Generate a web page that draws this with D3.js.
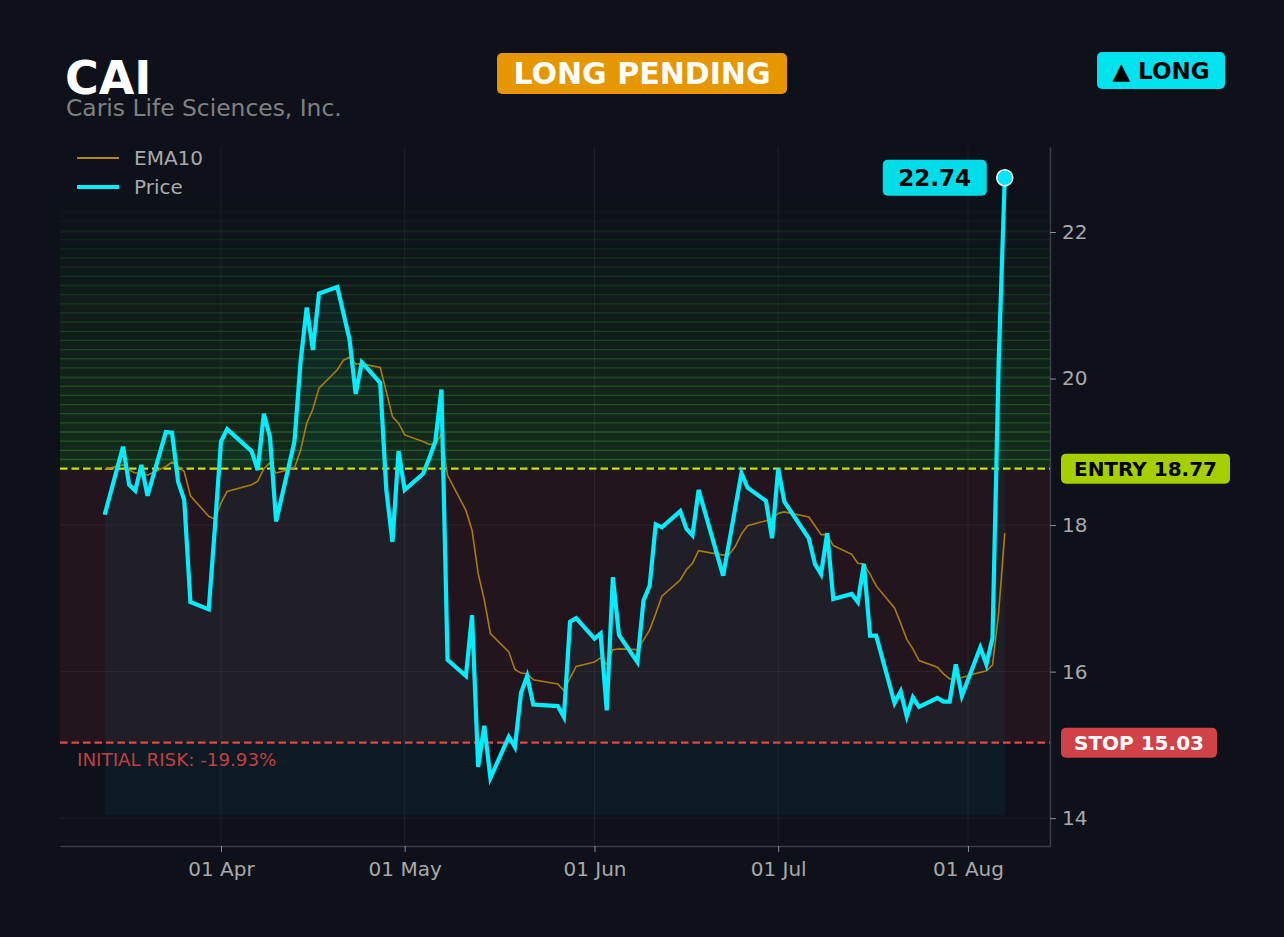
<!DOCTYPE html>
<html>
<head>
<meta charset="utf-8">
<title>CAI - Caris Life Sciences</title>
<script src="https://cdn.jsdelivr.net/npm/d3@7"></script>
<style>
  body { margin: 0; background: #0e111a; }
  svg { display: block; font-family: "DejaVu Sans", sans-serif; }
</style>
</head>
<body>
<script>

// Trading days shown on the chart
var dates = [
  "2026-03-13","2026-03-16","2026-03-17","2026-03-18","2026-03-19","2026-03-20",
  "2026-03-23","2026-03-24","2026-03-25","2026-03-26","2026-03-27","2026-03-30",
  "2026-03-31","2026-04-01","2026-04-02","2026-04-06","2026-04-07","2026-04-08",
  "2026-04-09","2026-04-10","2026-04-13","2026-04-14","2026-04-15","2026-04-16",
  "2026-04-17","2026-04-20","2026-04-21","2026-04-22","2026-04-23","2026-04-24",
  "2026-04-27","2026-04-28","2026-04-29","2026-04-30","2026-05-01","2026-05-04",
  "2026-05-05","2026-05-06","2026-05-07","2026-05-08","2026-05-11","2026-05-12",
  "2026-05-13","2026-05-14","2026-05-15","2026-05-18","2026-05-19","2026-05-20",
  "2026-05-21","2026-05-22","2026-05-26","2026-05-27","2026-05-28","2026-05-29",
  "2026-06-01","2026-06-02","2026-06-03","2026-06-04","2026-06-05","2026-06-08",
  "2026-06-09","2026-06-10","2026-06-11","2026-06-12","2026-06-15","2026-06-16",
  "2026-06-17","2026-06-18","2026-06-22","2026-06-23","2026-06-24","2026-06-25",
  "2026-06-26","2026-06-29","2026-06-30","2026-07-01","2026-07-02","2026-07-06",
  "2026-07-07","2026-07-08","2026-07-09","2026-07-10","2026-07-13","2026-07-14",
  "2026-07-15","2026-07-16","2026-07-17","2026-07-20","2026-07-21","2026-07-22",
  "2026-07-23","2026-07-24","2026-07-27","2026-07-28","2026-07-29","2026-07-30",
  "2026-07-31","2026-08-03","2026-08-04","2026-08-05","2026-08-06","2026-08-07"
];

// Closing price
var price = [
  18.14, 19.07, 18.55, 18.47, 18.82, 18.40,
  19.27, 19.26, 18.59, 18.34, 16.95, 16.85,
  17.96, 19.14, 19.31, 19.01, 18.75, 19.52,
  19.20, 18.05, 19.14, 20.23, 20.97, 20.39,
  21.16, 21.25, 20.89, 20.53, 19.79, 20.22,
  19.94, 18.48, 17.77, 19.01, 18.48, 18.70,
  18.91, 19.14, 19.85, 16.16, 15.94, 16.77,
  14.70, 15.26, 14.55, 15.11, 14.97, 15.71,
  15.94, 15.55, 15.53, 15.38, 16.68, 16.73,
  16.45, 16.52, 15.47, 17.29, 16.50, 16.13,
  16.97, 17.17, 18.01, 17.97, 18.19, 17.95,
  17.86, 18.48, 17.31, 17.77, 18.24, 18.71,
  18.51, 18.33, 17.82, 18.77, 18.32, 17.82,
  17.47, 17.33, 17.89, 16.99, 17.06, 16.95,
  17.47, 16.49, 16.49, 15.57, 15.73, 15.39,
  15.65, 15.52, 15.64, 15.59, 15.59, 16.10,
  15.67, 16.33, 16.10, 16.46, 20.20, 22.74
];

// EMA10 line
var ema10 = [
  18.76, 18.82, 18.75, 18.71, 18.71, 18.68,
  18.80, 18.86, 18.80, 18.73, 18.40, 18.12,
  18.08, 18.30, 18.46, 18.55, 18.60, 18.77,
  18.85, 18.71, 18.78, 19.02, 19.39, 19.58,
  19.87, 20.12, 20.25, 20.29, 20.20, 20.20,
  20.15, 19.82, 19.48, 19.39, 19.23, 19.14,
  19.10, 19.11, 19.24, 18.68, 18.20, 17.93,
  17.34, 16.98, 16.52, 16.27, 16.03, 15.98,
  15.97, 15.89, 15.83, 15.74, 15.91, 16.07,
  16.13, 16.19, 16.10, 16.30, 16.31, 16.30,
  16.43, 16.57, 16.79, 17.03, 17.25, 17.39,
  17.48, 17.65, 17.59, 17.60, 17.71, 17.88,
  17.99, 18.06, 18.08, 18.16, 18.18, 18.11,
  17.99, 17.87, 17.87, 17.72, 17.60, 17.48,
  17.47, 17.33, 17.17, 16.87, 16.66, 16.44,
  16.31, 16.15, 16.06, 15.97, 15.90, 15.90,
  15.92, 15.99, 16.01, 16.09, 16.80, 17.89
];

// Trade levels
var entryPrice = 18.77;
var stopPrice = 15.03;
var targetPrice = 22.52;
var areaBase = 14.04;

// Axis ticks
var yTicks = [14, 16, 18, 20, 22];
var yDomain = [13.62, 23.16];
var xDomain = ["2026-03-05T17:00:00Z", "2026-08-14T09:20:00Z"];

drawChart();


function drawChart(){

  // Width and height
  var w = 1284;
  var h = 937;

  var svg = d3.select("body")
              .append("svg")
              .attr("width", w)
              .attr("height", h);

  svg.append("rect")
     .attr("width", w)
     .attr("height", h)
     .attr("fill", "#0e111a");

  // Plot box
  var margin = {top: 147, right: 234, bottom: 91, left: 60};
  var left = margin.left;
  var right = w - margin.right;
  var top = margin.top;
  var bottom = h - margin.bottom;

  var parse = d3.utcParse("%Y-%m-%d");
  var data = dates.map((d, i) => ({date: parse(d), price: price[i], ema: ema10[i]}));

  var xScale = d3.scaleUtc()
                 .domain(xDomain.map(d => new Date(d)))
                 .range([left, right]);

  var yScale = d3.scaleLinear()
                 .domain(yDomain)
                 .range([bottom, top]);

  // Profit zone: stacked bands fading upward
  var nBands = 30;
  var bandStep = (targetPrice - entryPrice) / nBands;
  var bands = d3.range(nBands);
  var zone = svg.append("g");
  zone.selectAll("rect")
      .data(bands)
      .enter()
      .append("rect")
      .attr("x", left)
      .attr("width", right - left)
      .attr("y", i => yScale(entryPrice + (i + 1) * bandStep))
      .attr("height", i => yScale(entryPrice + i * bandStep) - yScale(entryPrice + (i + 1) * bandStep))
      .attr("fill", "#36b827")
      .attr("fill-opacity", i => 0.16 * Math.pow(1 - i / nBands, 1.1));
  zone.selectAll("line")
      .data(bands)
      .enter()
      .append("line")
      .attr("x1", left)
      .attr("x2", right)
      .attr("y1", i => yScale(entryPrice + (i + 1) * bandStep))
      .attr("y2", i => yScale(entryPrice + (i + 1) * bandStep))
      .attr("stroke", "#36b827")
      .attr("stroke-width", 1.3)
      .attr("stroke-opacity", i => 0.38 * Math.pow(1 - (i + 1) / nBands, 0.7));

  // Risk zone between entry and stop
  svg.append("rect")
     .attr("x", left)
     .attr("width", right - left)
     .attr("y", yScale(entryPrice))
     .attr("height", yScale(stopPrice) - yScale(entryPrice))
     .attr("fill", "#ef4444")
     .attr("fill-opacity", 0.09);

  // Grid
  var monthTicks = xScale.ticks(d3.utcMonth.every(1));
  var grid = svg.append("g")
                .attr("stroke", "#ffffff")
                .attr("stroke-opacity", 0.06)
                .attr("stroke-width", 1);
  grid.selectAll(".gx")
      .data(monthTicks)
      .enter()
      .append("line")
      .attr("x1", d => xScale(d))
      .attr("x2", d => xScale(d))
      .attr("y1", top)
      .attr("y2", bottom);
  grid.selectAll(".gy")
      .data(yTicks)
      .enter()
      .append("line")
      .attr("x1", left)
      .attr("x2", right)
      .attr("y1", d => yScale(d))
      .attr("y2", d => yScale(d));

  // Area under price
  var area = d3.area()
               .x(d => xScale(d.date))
               .y0(yScale(areaBase))
               .y1(d => yScale(d.price));
  svg.append("path")
     .datum(data)
     .attr("d", area)
     .attr("fill", "#00e5ff")
     .attr("fill-opacity", 0.045);

  // Entry and stop lines
  svg.append("line")
     .attr("x1", left).attr("x2", right)
     .attr("y1", yScale(entryPrice)).attr("y2", yScale(entryPrice))
     .attr("stroke", "#c8e00a")
     .attr("stroke-width", 2.2)
     .attr("stroke-dasharray", "7.5,4");

  svg.append("line")
     .attr("x1", left).attr("x2", right)
     .attr("y1", yScale(stopPrice)).attr("y2", yScale(stopPrice))
     .attr("stroke", "#e04848")
     .attr("stroke-width", 2.2)
     .attr("stroke-dasharray", "7.5,4");

  svg.append("text")
     .attr("x", 77)
     .attr("y", yScale(stopPrice) + 23)
     .attr("fill", "#c0403f")
     .attr("font-size", 18.3)
     .text("INITIAL RISK: " + ((stopPrice - entryPrice) / entryPrice * 100).toFixed(2) + "%");

  // EMA and price lines
  var emaLine = d3.line()
                  .x(d => xScale(d.date))
                  .y(d => yScale(d.ema));
  svg.append("path")
     .datum(data)
     .attr("d", emaLine)
     .attr("fill", "none")
     .attr("stroke", "#b8860b")
     .attr("stroke-width", 1.6)
     .attr("stroke-opacity", 0.9);

  var priceLine = d3.line()
                    .x(d => xScale(d.date))
                    .y(d => yScale(d.price));
  svg.append("path")
     .datum(data)
     .attr("d", priceLine)
     .attr("fill", "none")
     .attr("stroke", "#00eeff")
     .attr("stroke-width", 4.2)
     .attr("stroke-linejoin", "miter");

  // Last price marker
  var lastD = data[data.length - 1];
  var lx = xScale(lastD.date);
  var ly = yScale(lastD.price);
  svg.append("circle")
     .attr("cx", lx)
     .attr("cy", ly)
     .attr("r", 8)
     .attr("fill", "#00e5ff")
     .attr("stroke", "#ffffff")
     .attr("stroke-width", 1.5);

  badge(svg, lx - 122, ly - 18, 104, 36, "#00dde8", lastD.price.toFixed(2), "#000000", 23);

  // Axes
  var xAxis = svg.append("g")
                 .attr("transform", `translate(0, ${bottom})`)
                 .call(d3.axisBottom(xScale)
                         .ticks(d3.utcMonth.every(1))
                         .tickFormat(d3.utcFormat("%d %b"))
                         .tickSize(6)
                         .tickSizeOuter(0)
                         .tickPadding(10));

  var yAxis = svg.append("g")
                 .attr("transform", `translate(${right}, 0)`)
                 .call(d3.axisRight(yScale)
                         .tickValues(yTicks)
                         .tickSize(6)
                         .tickSizeOuter(0)
                         .tickPadding(6));

  [xAxis, yAxis].forEach(ax => {
    ax.select(".domain").attr("stroke", "#3b3e46").attr("stroke-width", 1.5);
    ax.selectAll(".tick line").attr("stroke", "#8a8d93");
    ax.selectAll(".tick text")
      .attr("fill", "#a9a9a9")
      .attr("font-size", 20)
      .attr("font-family", "DejaVu Sans, sans-serif");
  });

  // Level badges on the right
  badge(svg, right + 11, yScale(entryPrice) - 15, 169, 30, "#a6cf00", "ENTRY " + entryPrice.toFixed(2), "#000000", 20);
  badge(svg, right + 11, yScale(stopPrice) - 15, 156, 30, "#d04247", "STOP " + stopPrice.toFixed(2), "#ffffff", 20);

  // Legend
  var legend = svg.append("g");
  legend.append("line")
        .attr("x1", 77).attr("x2", 119)
        .attr("y1", 158).attr("y2", 158)
        .attr("stroke", "#b8860b")
        .attr("stroke-width", 2);
  legend.append("text")
        .attr("x", 134).attr("y", 165)
        .attr("fill", "#a9a9a9")
        .attr("font-size", 20)
        .text("EMA10");
  legend.append("line")
        .attr("x1", 77).attr("x2", 119)
        .attr("y1", 187).attr("y2", 187)
        .attr("stroke", "#00eeff")
        .attr("stroke-width", 4);
  legend.append("text")
        .attr("x", 134).attr("y", 194)
        .attr("fill", "#a9a9a9")
        .attr("font-size", 20)
        .text("Price");

  // Header
  svg.append("text")
     .attr("x", 65)
     .attr("y", 94)
     .attr("fill", "#ffffff")
     .attr("font-size", 46)
     .attr("font-weight", "bold")
     .text("CAI");

  svg.append("text")
     .attr("x", 66)
     .attr("y", 116)
     .attr("fill", "#808080")
     .attr("font-size", 23.4)
     .text("Caris Life Sciences, Inc.");

  badge(svg, 497, 53, 290, 41, "#e69700", "LONG PENDING", "#ffffff", 30);
  badge(svg, 1097, 52, 128, 37, "#00e3ef", "\u25B2 LONG", "#000000", 23);
};

function badge(svg, x, y, bw, bh, fill, label, color, size){
  var g = svg.append("g");
  g.append("rect")
   .attr("x", x)
   .attr("y", y)
   .attr("width", bw)
   .attr("height", bh)
   .attr("rx", 5)
   .attr("fill", fill);
  g.append("text")
   .attr("x", x + bw / 2)
   .attr("y", y + bh / 2)
   .attr("dy", "0.36em")
   .attr("text-anchor", "middle")
   .attr("fill", color)
   .attr("font-size", size)
   .attr("font-weight", "bold")
   .text(label);
};

</script>
</body>
</html>
